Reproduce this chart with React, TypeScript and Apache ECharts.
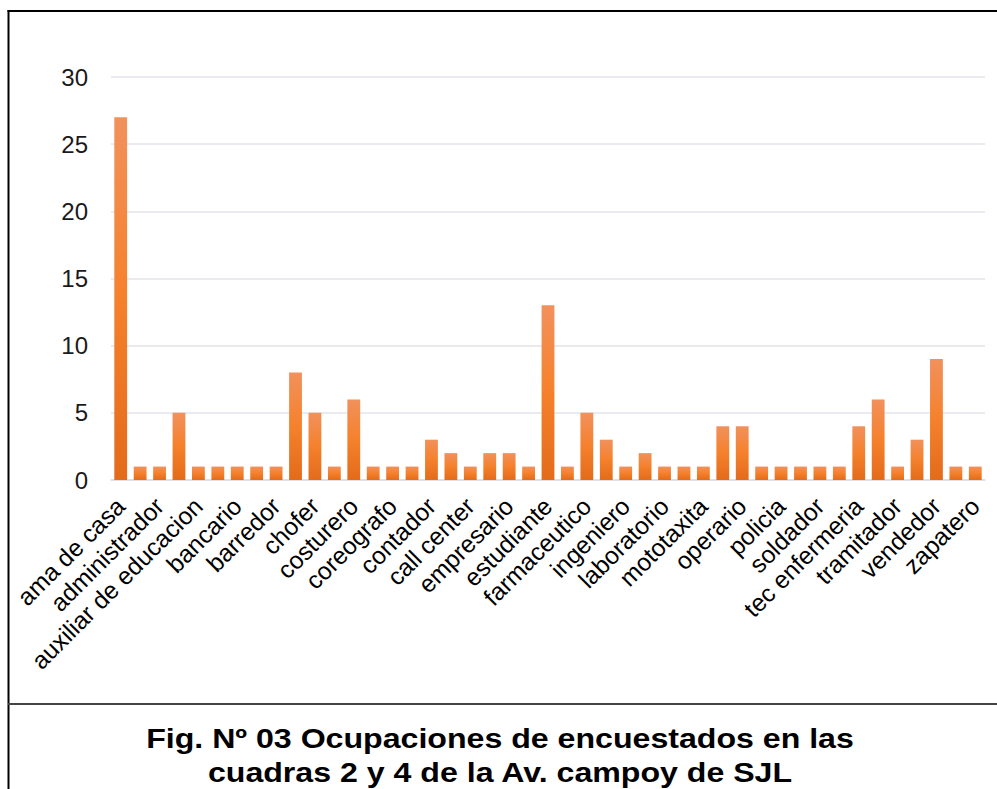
import React, { useEffect, useRef } from "react";
import * as echarts from "echarts";

const categories: string[] = [
  "ama de casa", "albañil", "administrador", "asistente", "auxiliar de educacion",
  "auxiliar de limpieza", "bancario", "barbero", "barredor", "cajero",
  "chofer", "cocinero", "costurero", "comerciante", "coreografo",
  "conserje", "contador", "carpintero", "call center", "electricista",
  "empresario", "enfermera", "estudiante", "estilista", "farmaceutico",
  "gasfitero", "ingeniero", "jubilado", "laboratorio", "mecanico",
  "mototaxita", "obrero", "operario", "panadero", "policia",
  "profesor", "soldador", "secretaria", "tec enfermeria", "tecnico",
  "tramitador", "trabajador independiente", "vendedor", "vigilante", "zapatero",
];

const values: number[] = [
  27, 1, 1, 5, 1, 1, 1, 1, 1, 8,
  5, 1, 6, 1, 1, 1, 3, 2, 1, 2,
  2, 1, 13, 1, 5, 3, 1, 2, 1, 1,
  1, 4, 4, 1, 1, 1, 1, 1, 4, 6,
  1, 3, 9, 1, 1,
];

const yMin = 0;
const yMax = 30;
const yInterval = 5;

const titleLine1 = "Fig. Nº 03 Ocupaciones de encuestados en las";
const titleLine2 = "cuadras 2 y 4 de la Av. campoy de SJL";

const FONT = '"Liberation Sans", Arial, sans-serif';

export default function App() {
  const ref = useRef<HTMLDivElement>(null);

  useEffect(() => {
    if (!ref.current) return;
    const chart = echarts.init(ref.current, null, { renderer: "svg" });
    chart.setOption({
      animation: false,
      backgroundColor: "#ffffff",
      textStyle: { fontFamily: FONT },
      grid: { left: 111, right: 12, top: 77, bottom: 309, containLabel: false },
      xAxis: {
        type: "category",
        data: categories,
        axisLine: { show: true, lineStyle: { color: "#d9dde4", width: 1.5 } },
        axisTick: { show: false },
        axisLabel: {
          interval: 1,
          rotate: 45,
          margin: 22,
          fontSize: 24.5,
          color: "#000000",
          fontFamily: FONT,
        },
      },
      yAxis: {
        type: "value",
        min: yMin,
        max: yMax,
        interval: yInterval,
        axisLine: { show: false },
        axisTick: { show: false },
        splitLine: { show: true, lineStyle: { color: "#e2e5eb", width: 1.5 } },
        axisLabel: { fontSize: 24, color: "#1a1a1a", margin: 23, fontFamily: FONT },
      },
      series: [
        {
          type: "bar",
          data: values,
          barCategoryGap: "34%",
          itemStyle: {
            color: new echarts.graphic.LinearGradient(0, 0, 0, 1, [
              { offset: 0, color: "#f1915c" },
              { offset: 0.5, color: "#f5812c" },
              { offset: 1, color: "#e36b1a" },
            ]),
          },
        },
      ],
      graphic: [
        { type: "line", shape: { x1: 7.5, y1: 11, x2: 997, y2: 11 }, style: { stroke: "#000", lineWidth: 2 } },
        { type: "line", shape: { x1: 8.5, y1: 10, x2: 8.5, y2: 789 }, style: { stroke: "#000", lineWidth: 2 } },
        { type: "line", shape: { x1: 8, y1: 704, x2: 997, y2: 704 }, style: { stroke: "#444", lineWidth: 2 } },
        {
          type: "text",
          x: 500,
          y: 738,
          scaleX: 1.19,
          style: {
            text: titleLine1,
            font: 'bold 27px "Liberation Sans", Arial, sans-serif',
            fill: "#000",
            align: "center",
            verticalAlign: "middle",
          },
        },
        {
          type: "text",
          x: 500,
          y: 772,
          scaleX: 1.19,
          style: {
            text: titleLine2,
            font: 'bold 27px "Liberation Sans", Arial, sans-serif',
            fill: "#000",
            align: "center",
            verticalAlign: "middle",
          },
        },
      ],
    });
    return () => chart.dispose();
  }, []);

  return (
    <div
      ref={ref}
      style={{ position: "fixed", left: 0, top: 0, width: 997, height: 789 }}
    />
  );
}
